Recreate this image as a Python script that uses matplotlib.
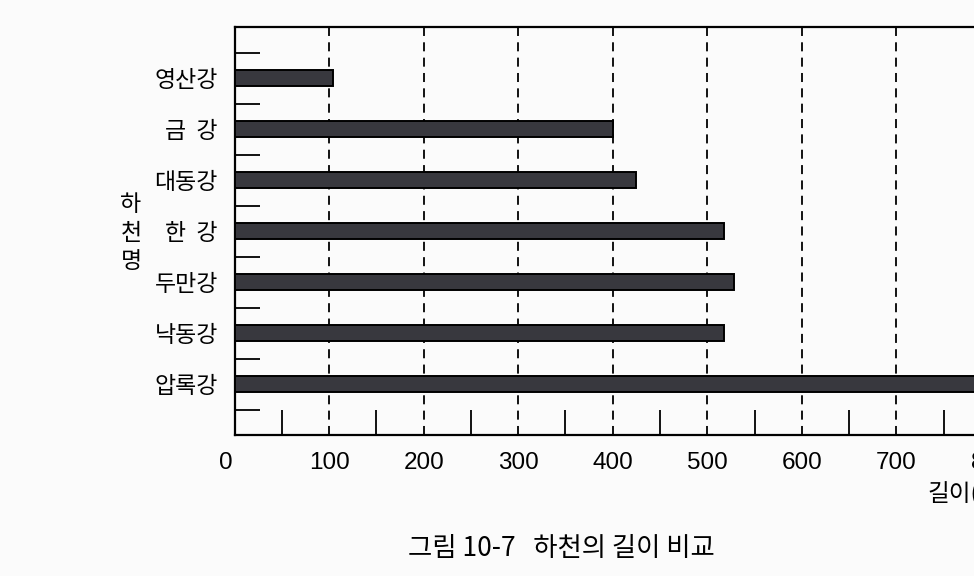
import matplotlib
matplotlib.use("Agg")
import matplotlib.pyplot as plt
import matplotlib.transforms as mtransforms

plt.rcParams['font.family'] = ['Noto Sans CJK KR', 'DejaVu Sans']

# data: rivers (top to bottom) and length in km
rivers = ['영산강', '금  강', '대동강', '한  강', '두만강', '낙동강', '압록강']
lengths = [104, 400, 425, 518, 528, 518, 790]
x_major = [0, 100, 200, 300, 400, 500, 600, 700, 800]
x_minor = [50, 150, 250, 350, 450, 550, 650, 750, 850]

fig = plt.figure(figsize=(9.74, 5.76), dpi=100, facecolor='#fbfbfb')
# axes extends past the right edge, like the cropped scan
ax = fig.add_axes([234.5 / 974, 1 - 435 / 576, (1038.3 - 234.5) / 974, 408 / 576])
ax.set_facecolor('#fbfbfb')

ypos = list(range(len(rivers)))
ax.barh(ypos, lengths, height=0.33, color='#38383e', edgecolor='black', linewidth=1.4, zorder=3)

ax.set_xlim(0, 850)
ax.set_ylim(7, -1)

# dashed reference lines at every hundred
for v in x_major[1:]:
    ax.axvline(v, color='black', lw=1.3, ls=(0, (5, 3.5)), zorder=1)

ax.set_xticks(x_major)
ax.set_xticklabels([str(v) for v in x_major], fontfamily='Liberation Sans', fontsize=17.5)
ax.set_xticks(x_minor, minor=True)
ax.tick_params(axis='x', which='major', length=0, pad=12)
ax.tick_params(axis='x', which='minor', direction='in', length=18, width=1.3, color='black')

ax.set_yticks(ypos)
ax.set_yticklabels(rivers, fontsize=16.5, fontweight='medium')
ax.set_yticks([y - 0.5 for y in ypos] + [6.5], minor=True)
ax.tick_params(axis='y', which='major', length=0, pad=12)
ax.tick_params(axis='y', which='minor', direction='in', length=18, width=1.3, color='black')

# the "0" label sits a bit left of the axis
lab0 = ax.get_xticklabels()[0]
lab0.set_transform(lab0.get_transform() + mtransforms.ScaledTranslation(-9 / 100, 0, fig.dpi_scale_trans))

for s in ax.spines.values():
    s.set_linewidth(1.6)

fig.text(131 / 974, 1 - 233 / 576, '하\n천\n명', fontsize=16.5, fontweight='medium',
         ha='center', va='center', linespacing=1.3)
fig.text(927 / 974, 1 - 494 / 576, '길이(km)', fontsize=17, ha='left', va='center')
fig.text(408 / 974, 1 - 548 / 576, '그림 10-7   하천의 길이 비교', fontsize=19, ha='left', va='center')

fig.savefig('out.png', dpi=100, facecolor=fig.get_facecolor())
